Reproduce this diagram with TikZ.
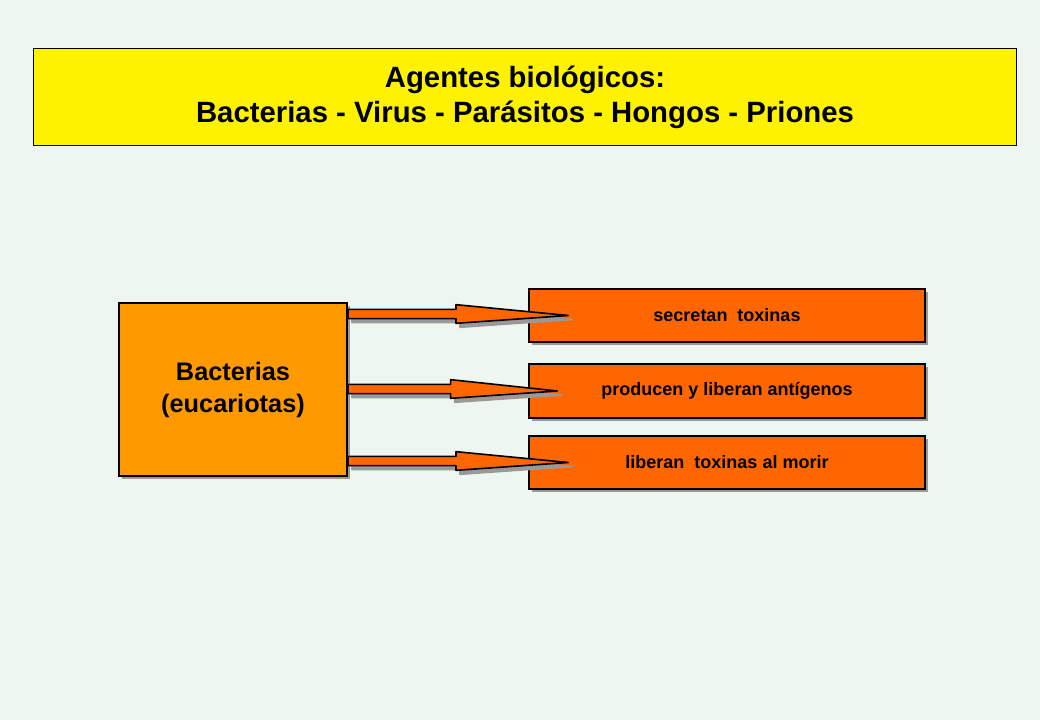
\documentclass[tikz,border=0pt]{standalone}
\usepackage{fontspec}
\setmainfont{Liberation Sans}
\usetikzlibrary{calc}
\definecolor{bg}{HTML}{EEF7EF}
\definecolor{orA}{HTML}{FF9900}
\definecolor{orB}{HTML}{FF6600}
\tikzset{
 shad/.style={fill=gray!80,draw=none},
 box/.style={draw=black,line width=1.5pt,inner sep=0pt,anchor=north west,align=center,font=\bfseries},
}
\newcommand{\myarrow}[3]{% start coord, head start x offset, tip
 \path let \p1=#1, \p2=#3 in
  coordinate (hs) at (\x1+#2,\y1);
 \foreach \o/\c/\d in {3/gray!80/gray!80, 0/orB/black}{
  \path let \p1=#1, \p2=#3, \p3=(hs) in
   [fill=\c,draw=\d,line width=1.2pt,line join=round]
   (\x1+\o,\y1-3.5-\o) -- (\x3+\o,\y1-3.5-\o) -- (\x3+\o,\y1-7-\o) -- (\x2+\o,\y2-\o)
   -- (\x3+\o,\y1+7-\o) -- (\x3+\o,\y1+3.5-\o) -- (\x1+\o,\y1+3.5-\o) -- cycle;
 }
}
\begin{document}
\begin{tikzpicture}[x=0.75pt,y=-0.75pt]
\fill[bg] (0,0) rectangle (1040,720);
\useasboundingbox (0,0) rectangle (1040,720);
% title
\node[box,fill=yellow,line width=0.8pt,minimum width=983*0.75pt,minimum height=97*0.75pt,font=\bfseries\fontsize{22}{26}\selectfont] (t) at (33,48) {Agentes biológicos:\\Bacterias - Virus - Parásitos - Hongos - Priones};
% shadows
\fill[gray!80] (122,306) rectangle (350,479);
\foreach \y/\h in {288/53,363/54,435/53} \fill[gray!80] (532,\y+4) rectangle (928,\y+\h+4);
\node[box,fill=orA,minimum width=228*0.75pt,minimum height=173*0.75pt,font=\bfseries\fontsize{19}{24}\selectfont] (b) at (118,302) {Bacterias\\(eucariotas)};
\node[box,fill=orB,minimum width=396*0.75pt,minimum height=53*0.75pt,font=\bfseries\fontsize{13.5}{16}\selectfont] (s1) at (528,288) {secretan~ toxinas};
\node[box,fill=orB,minimum width=396*0.75pt,minimum height=54*0.75pt,font=\bfseries\fontsize{13.5}{16}\selectfont] (s2) at (528,363) {producen y liberan antígenos};
\node[box,fill=orB,minimum width=396*0.75pt,minimum height=53*0.75pt,font=\bfseries\fontsize{13.5}{16}\selectfont] (s3) at (528,435) {liberan~ toxinas al morir};
\coordinate (a1) at (b.east |- 0,314);
\coordinate (a2) at (b.east |- 0,389);
\coordinate (a3) at (b.east |- 0,461);
\coordinate (e1) at ([xshift=30pt]s1.west);
\coordinate (e2) at ([xshift=22pt]s2.west);
\coordinate (e3) at ([xshift=30pt]s3.west);
\myarrow{(a1)}{81pt}{(e1)}
\myarrow{(a2)}{77pt}{(e2)}
\myarrow{(a3)}{81pt}{(e3)}
\end{tikzpicture}
\end{document}
